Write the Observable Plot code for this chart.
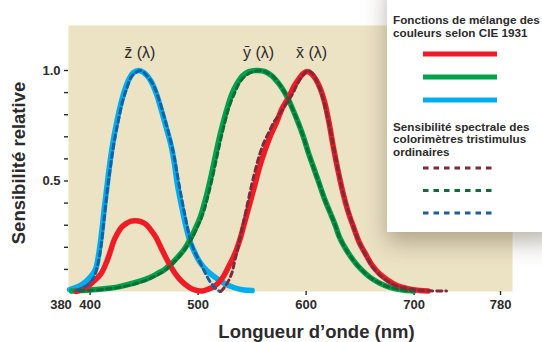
<!DOCTYPE html>
<html><head><meta charset="utf-8">
<script src="https://cdn.jsdelivr.net/npm/d3@7"></script>
<script src="https://cdn.jsdelivr.net/npm/@observablehq/plot@0.6"></script>
<style>
html,body{margin:0;padding:0;background:#fff;}
body{width:542px;height:342px;position:relative;overflow:hidden;font-family:"Liberation Sans",Arial,sans-serif;color:#2b2b2b;}
#chart{position:absolute;left:0;top:0;}
.ttl{position:absolute;font-weight:bold;font-size:18.5px;white-space:nowrap;line-height:1;}
#legend{position:absolute;left:387px;top:-20px;width:170px;height:252px;background:#fff;box-shadow:0px 10px 22px rgba(70,60,40,0.38);}
.lt{position:absolute;left:6px;font-weight:bold;font-size:11.7px;line-height:13px;white-space:nowrap;color:#2b2b2b;}
#legsvg{position:absolute;left:0;top:20px;}
</style></head>
<body>
<div id="chart"></div>
<div class="ttl" id="ytitle" style="left:18.5px;top:162.5px;transform:translate(-50%,-50%) rotate(-90deg);">Sensibilité relative</div>
<div class="ttl" id="xtitle" style="left:316.5px;top:332px;transform:translate(-50%,-50%);">Longueur d’onde (nm)</div>
<div id="legend">
  <div class="lt" style="top:33px;">Fonctions de mélange des<br>couleurs selon CIE 1931</div>
  <div class="lt" style="top:140.5px;line-height:12.5px;">Sensibilité spectrale des<br>colorimètres tristimulus<br>ordinaires</div>
  <svg id="legsvg" width="160" height="232"></svg>
</div>
<script>
// ---- data (wavelength nm, relative sensitivity) ----
const xBar = [[387,0],[392,0.008],[397,0.02],[403,0.045],[410,0.08],[415,0.13],[419,0.185],[422,0.23],[425,0.26],[429,0.29],[433,0.306],[438,0.318],[442,0.32],[447,0.316],[452,0.303],[456,0.28],[461,0.245],[465,0.205],[470,0.155],[475,0.11],[479,0.08],[485,0.045],[490,0.025],[495,0.01],[500,0.003],[505,0.003],[510,0.012],[514,0.02],[519,0.04],[523,0.065],[528,0.11],[534,0.17],[539,0.24],[543.5,0.32],[548,0.4],[553,0.49],[557,0.565],[562,0.64],[567,0.705],[573,0.77],[578,0.83],[584,0.88],[589,0.93],[593,0.96],[597,0.985],[601,0.995],[605,0.985],[609,0.96],[613,0.92],[617,0.86],[621,0.77],[625,0.66],[629,0.56],[634,0.45],[639,0.36],[644,0.29],[649,0.225],[655,0.17],[661,0.12],[668,0.08],[676,0.05],[684,0.027],[695,0.012],[705,0.005],[713,0.002]];
const yBar = [[383,0.002],[400,0.007],[413,0.012],[425,0.02],[438,0.035],[447,0.048],[456,0.065],[463,0.083],[469,0.10],[475,0.125],[481,0.155],[487,0.19],[493,0.24],[498,0.29],[502,0.336],[507,0.42],[511,0.5],[515,0.59],[519,0.68],[523,0.76],[527,0.83],[531,0.89],[536,0.94],[541,0.975],[547,0.995],[556,1.0],[562,0.995],[568,0.977],[574,0.945],[579,0.91],[584,0.865],[588,0.82],[593,0.76],[597.5,0.70],[602,0.63],[607,0.56],[612,0.49],[617,0.42],[622,0.36],[627,0.3],[631,0.245],[637,0.19],[644,0.14],[651,0.1],[659,0.065],[668,0.038],[677,0.02],[688,0.008],[700,0.002]];
const zBar = [[381,0.008],[390,0.025],[396,0.045],[401,0.07],[405,0.1],[408,0.17],[411,0.28],[413,0.37],[415.5,0.47],[418,0.57],[421,0.67],[424,0.75],[428,0.84],[432,0.91],[436,0.96],[440,0.99],[445,1.0],[450,0.99],[456,0.955],[461,0.9],[466,0.82],[470,0.75],[475,0.66],[478,0.58],[481,0.48],[485,0.38],[489,0.29],[493,0.22],[498,0.165],[502,0.13],[508,0.095],[517,0.06],[525,0.035],[533,0.018],[541,0.008],[550,0.004]];
const xMeter = [[521,0],[526,0.03],[531,0.08],[534,0.14],[537,0.2],[541,0.29],[545,0.38],[549,0.47],[553,0.55],[557,0.62],[561,0.675],[566,0.725],[570,0.765],[575,0.8],[579,0.83],[583,0.86],[587,0.89],[591,0.93],[595,0.965],[599,0.99],[602,1.0],[606,0.985],[610,0.95],[614,0.9],[618,0.83],[622,0.74],[626,0.64],[630,0.54],[634,0.45],[639,0.365],[644,0.29],[649,0.225],[655,0.165],[661,0.115],[668,0.075],[676,0.045],[684,0.025],[695,0.012],[705,0.006],[715,0.003],[730,0.002]];
const yMeter = [[390,0.003],[413,0.01],[438,0.03],[456,0.06],[469,0.095],[481,0.15],[493,0.23],[500,0.3],[505,0.36],[509,0.43],[513,0.51],[517,0.6],[521,0.69],[525,0.77],[529,0.84],[534,0.9],[539,0.95],[545,0.98],[551,0.995],[559,1.0],[564,0.99],[569,0.975],[575,0.94],[579,0.91],[584,0.865],[588,0.82],[593,0.76],[597.5,0.70],[602,0.63],[607,0.56],[612,0.49],[617,0.42],[622,0.36],[627,0.3],[631,0.245],[637,0.19],[644,0.14],[651,0.1],[659,0.065],[668,0.038],[677,0.02],[688,0.008],[700,0.002]];
const zMeter = [[387,0.005],[395,0.02],[400,0.04],[404,0.07],[407,0.12],[410,0.2],[413,0.33],[416,0.46],[419,0.57],[422,0.67],[426,0.77],[430,0.86],[434,0.92],[438,0.97],[442,0.99],[447,1.0],[452,0.98],[458,0.94],[463,0.88],[468,0.8],[472,0.73],[477,0.63],[480,0.55],[484,0.44],[488,0.34],[492,0.25],[496,0.19],[502,0.13],[507,0.08],[511,0.045],[516,0.015],[520,0.0]];

const xTicks = [400,500,600,700,780];
const xFirstTick = [380];
const yTicks = [0.1,0.2,0.3,0.4,0.5,0.6,0.7,0.8,0.9,1.0];
const yTickLabels = ["","","","","0.5","","","","","1.0"];
const curveLabels = ["z\u0304 (λ)","y\u0304 (λ)","x\u0304 (λ)"];
const curveLabelWl = [446, 556, 605];
const curveLabelLevel = [1.08, 1.08, 1.08];

// ---- styles ----
const RED="#ee1d25", GREEN="#00a24c", BLUE="#00aeef";
const MAROON="#7d2a3b", DGREEN="#0f6b37", DBLUE="#1b5e9c";
const TAN="#ece2c4";

const yLab = new Map(yTicks.map((v,i)=>[v, yTickLabels[i]]));
const solid = (data, color) => Plot.line(data, {x: d=>d[0], y: d=>d[1], stroke: color, strokeWidth: 5.5, curve: "catmull-rom", strokeLinejoin:"round"});
const dashed = (data, color) => Plot.line(data, {x: d=>d[0], y: d=>d[1], stroke: color, strokeWidth: 3, strokeDasharray: "5,4", curve: "catmull-rom"});

const chart = Plot.plot({
  width: 542, height: 342,
  marginLeft: 68, marginRight: 30, marginTop: 25, marginBottom: 51,
  style: {fontFamily: "'Liberation Sans', Arial, sans-serif", fontSize: "13px", fontWeight: "bold", color: "#2b2b2b", background: "transparent"},
  x: {domain: [380, 791.1]},
  y: {domain: [0, 1.2036]},
  marks: [
    Plot.frame({fill: TAN, stroke: null}),
    Plot.axisY({ticks: yTicks, tickSize: 4, tickPadding: 4, tickFormat: d => yLab.get(d), label: null, strokeWidth: 1.4}),
    Plot.axisX({ticks: xTicks, tickSize: 4, tickPadding: 4, tickFormat: d => String(d), label: null, strokeWidth: 1.4}),
    Plot.axisX({ticks: xFirstTick, tickSize: 0, tickPadding: 8, dx: -7.5, tickFormat: d => String(d), label: null}),
    solid(zBar, BLUE),
    solid(yBar, GREEN),
    solid(xBar, RED),
    dashed(zMeter, DBLUE),
    dashed(yMeter, DGREEN),
    dashed(xMeter, MAROON),
    Plot.text(curveLabels, {x: (d,i)=>curveLabelWl[i], y: (d,i)=>curveLabelLevel[i], text: d=>d, fontSize: 16, fontWeight: "normal", fill: "#2b2b2b"})
  ]
});
document.getElementById("chart").appendChild(chart);

// ---- legend swatches ----
const legendSolid = [RED, GREEN, BLUE];
const legendDashed = [MAROON, DGREEN, DBLUE];
const lsvg = d3.select("#legsvg");
legendSolid.forEach((c,i)=>{
  lsvg.append("line").attr("x1",36).attr("x2",110).attr("y1",54+i*23).attr("y2",54+i*23).attr("stroke",c).attr("stroke-width",5);
});
legendDashed.forEach((c,i)=>{
  lsvg.append("line").attr("x1",36).attr("x2",107).attr("y1",168+i*22.5).attr("y2",168+i*22.5).attr("stroke",c).attr("stroke-width",3).attr("stroke-dasharray","5.5,5");
});
</script>
</body></html>
